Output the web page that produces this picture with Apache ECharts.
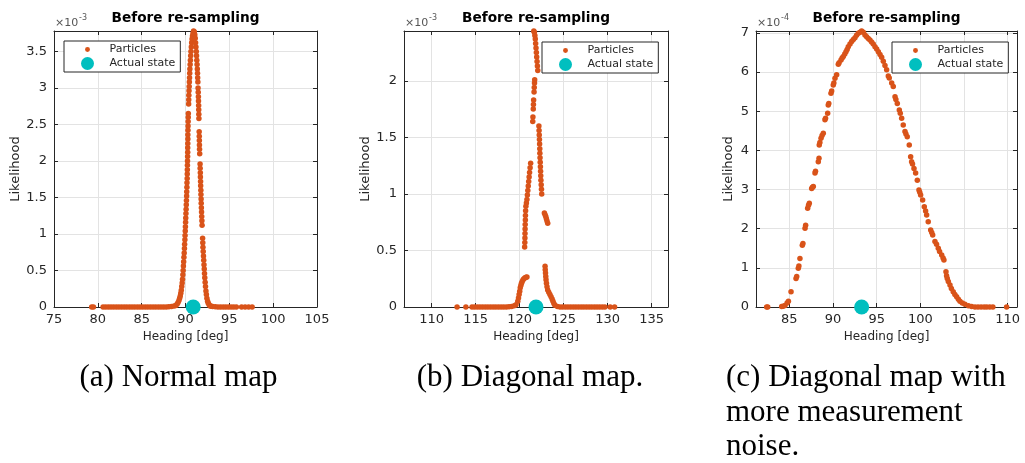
<!DOCTYPE html>
<html><head><meta charset="utf-8">
<script src="https://cdn.jsdelivr.net/npm/echarts@6/dist/echarts.min.js"></script>
<style>html,body{margin:0;padding:0;background:#fff}#c{width:1025px;height:463px}</style>
</head><body><div id="c"></div><script>
// Likelihood values are in units of the exponent shown above each axis (x10^-3, x10^-3, x10^-4)
const particlesA = [
[79.3,0],[79.5,0],[80.6,0],[80.9,0],[81.2,0],[81.5,0],[81.8,0],[82.1,0],[82.4,0],[82.7,0],[83.0,0],[83.3,0],[83.6,0],[83.9,0],[84.2,0],[84.5,0],[84.8,0],[85.1,0],[85.4,0],[85.7,0],[86.0,0],[86.3,0],[86.6,0],[86.9,0],[87.2,0],[87.5,0],[87.8,0],[88.1,0.003],[88.4,0.006],[88.7,0.012],[88.9,0.022],
[89.05,0.04],[89.15,0.06],[89.25,0.09],[89.33,0.12],[89.4,0.15],[89.46,0.19],[89.52,0.23],[89.57,0.28],[89.62,0.33],[89.66,0.38],[89.7,0.44],[89.73,0.5],[89.76,0.56],[89.79,0.62],[89.82,0.68],[89.85,0.74],[89.88,0.8],[89.9,0.86],[89.93,0.92],[89.95,0.98],[89.97,1.04],[89.99,1.1],[90.01,1.16],[90.03,1.22],[90.05,1.28],[90.07,1.34],[90.09,1.4],[90.11,1.46],[90.13,1.52],[90.14,1.58],[90.16,1.64],[90.17,1.7],[90.19,1.76],[90.2,1.82],[90.21,1.88],[90.22,1.94],[90.23,2.0],[90.24,2.06],[90.25,2.12],[90.25,2.18],[90.26,2.24],[90.27,2.3],[90.27,2.36],[90.28,2.42],[90.29,2.48],[90.3,2.54],[90.31,2.6],[90.32,2.65],[90.36,2.78],[90.37,2.84],[90.38,2.9],[90.4,2.96],[90.42,3.02],[90.44,3.08],[90.46,3.14],[90.48,3.2],[90.5,3.26],[90.53,3.32],[90.56,3.38],[90.59,3.44],[90.62,3.5],[90.66,3.56],[90.7,3.62],[90.75,3.67],[90.8,3.71],[90.86,3.75],[90.92,3.78],
[91.0,3.77],[91.06,3.73],[91.11,3.68],[91.15,3.62],[91.19,3.56],[91.23,3.5],[91.26,3.44],[91.29,3.38],[91.32,3.32],[91.35,3.26],[91.37,3.2],[91.39,3.14],[91.41,3.08],[91.43,3.0],[91.45,2.94],[91.47,2.88],[91.48,2.82],[91.5,2.76],[91.51,2.7],[91.52,2.64],[91.53,2.58],[91.56,2.4],[91.57,2.34],[91.58,2.28],[91.59,2.22],[91.6,2.16],[91.62,2.1],[91.66,1.96],[91.67,1.9],[91.69,1.84],[91.7,1.78],[91.72,1.72],[91.73,1.66],[91.75,1.6],[91.76,1.54],[91.78,1.48],[91.79,1.42],[91.81,1.36],[91.83,1.3],[91.85,1.24],[91.87,1.18],[91.89,1.12],[91.95,0.94],[91.97,0.88],[91.99,0.82],[92.02,0.76],[92.05,0.7],[92.08,0.64],[92.11,0.58],[92.14,0.52],[92.17,0.46],[92.2,0.4],[92.24,0.34],[92.28,0.28],[92.33,0.22],[92.38,0.17],[92.44,0.12],[92.52,0.08],[92.6,0.05],[92.7,0.03],[92.8,0.015],[92.95,0.01],
[93.1,0.006],[93.4,0.003],[93.7,0],[94.0,0],[94.3,0],[94.6,0],[94.9,0],[95.2,0],[95.5,0],[95.8,0],[96.4,0],[96.8,0],[97.2,0],[97.6,0]
];
const particlesB = [
[112.9,0],[113.9,0],[114.6,0],[114.9,0],[115.2,0],[115.5,0],[115.8,0],[116.1,0],[116.4,0],[116.7,0],[117.0,0],[117.3,0],[117.6,0],[117.9,0],[118.2,0],[118.5,0],[118.8,0.003],[119.1,0.005],[119.4,0.01],[119.6,0.02],
[119.8,0.05],[119.88,0.08],[119.95,0.11],[120.02,0.14],[120.08,0.17],[120.15,0.19],[120.22,0.21],[120.3,0.225],[120.4,0.24],[120.5,0.25],[120.62,0.258],[120.74,0.262],[120.84,0.266],
[120.58,0.53],[120.6,0.57],[120.61,0.61],[120.62,0.65],[120.63,0.69],[120.64,0.73],[120.66,0.77],[120.67,0.81],[120.69,0.85],[120.72,0.89],[120.78,0.92],[120.84,0.95],[120.89,0.99],[120.94,1.03],[120.99,1.07],[121.04,1.11],[121.09,1.15],[121.14,1.19],[121.2,1.23],[121.26,1.27],
[121.5,1.64],[121.52,1.68],[121.56,1.75],[121.58,1.79],[121.6,1.83],[121.65,1.9],[121.67,1.94],[121.7,1.98],[121.72,2.01],
[121.62,2.44],[121.68,2.43],[121.74,2.4],[121.79,2.37],[121.83,2.33],[121.87,2.29],[121.91,2.25],[121.95,2.21],[121.99,2.17],[122.03,2.13],[122.07,2.09],
[122.2,1.6],[122.22,1.56],[122.24,1.52],[122.26,1.48],[122.28,1.44],[122.3,1.4],[122.31,1.36],[122.33,1.32],[122.35,1.28],[122.37,1.24],[122.39,1.2],[122.41,1.16],[122.43,1.12],[122.46,1.08],[122.49,1.04],[122.52,1.0],
[122.82,0.83],[122.9,0.815],[122.98,0.8],[123.05,0.78],[123.12,0.76],[123.2,0.74],
[122.9,0.36],[122.92,0.33],[122.95,0.3],[122.98,0.27],[123.01,0.24],[123.06,0.21],[123.12,0.18],[123.2,0.15],[123.32,0.13],[123.45,0.11],[123.58,0.09],[123.7,0.07],[123.8,0.05],[123.9,0.03],[124.02,0.015],
[124.3,0.005],[124.6,0],[124.9,0],[125.2,0],[125.5,0],[125.8,0],[126.1,0],[126.4,0],[126.7,0],[127.0,0],[127.3,0],[127.6,0],[127.9,0],[128.2,0],[128.5,0],[128.8,0],[129.1,0],[129.4,0],[129.7,0],[130.3,0],[130.8,0]
];
const particlesC = [
[82.41,0],[82.53,0],[84.13,0.01],[84.3,0.02],[84.5,0.04],[84.75,0.1],[84.9,0.15],[85.2,0.39],[85.77,0.73],[85.85,0.78],[86.03,0.99],[86.1,1.05],[86.22,1.24],[86.49,1.58],[86.56,1.62],[86.8,2.01],[86.87,2.09],[87.1,2.52],[87.2,2.6],[87.29,2.65],[87.56,3.03],[87.65,3.06],[87.75,3.08],[87.94,3.42],[88.0,3.47],[88.32,3.71],[88.4,3.8],[88.43,4.14],[88.5,4.2],[88.63,4.31],[88.75,4.38],[88.89,4.44],[89.08,4.78],[89.15,4.82],[89.39,4.95],[89.46,5.16],[89.52,5.2],[89.77,5.46],[89.85,5.52],[90.03,5.67],[90.1,5.72],[90.23,5.84],[90.42,5.93],[90.61,6.2],[90.7,6.24],[90.92,6.31],[91.05,6.36],[91.18,6.4],[91.35,6.46],[91.49,6.52],[91.62,6.58],[91.75,6.65],[91.95,6.72],[92.14,6.78],[92.33,6.83],[92.52,6.88],[92.7,6.94],[92.9,6.99],[93.1,7.02],[93.28,7.05],
[93.47,7.02],[93.66,6.95],[93.85,6.9],[94.04,6.86],[94.23,6.82],[94.42,6.77],[94.61,6.72],[94.81,6.65],[95.0,6.59],[95.19,6.52],[95.38,6.45],[95.57,6.38],[95.76,6.28],[95.95,6.17],[96.14,6.06],[96.33,5.9],[96.44,5.85],[96.72,5.72],[96.9,5.63],[97.1,5.37],[97.2,5.3],[97.36,5.2],[97.59,5.03],[97.7,4.95],[97.86,4.82],[98.04,4.65],[98.24,4.48],[98.35,4.42],[98.5,4.35],[98.73,4.14],[98.89,3.84],[99.0,3.71],[99.1,3.65],[99.27,3.54],[99.46,3.42],[99.65,3.24],[99.84,2.99],[99.93,2.93],[100.03,2.86],[100.26,2.73],[100.45,2.56],[100.6,2.45],[100.72,2.35],[100.9,2.18],[101.18,1.97],[101.3,1.9],[101.41,1.84],[101.67,1.67],[101.85,1.6],[102.05,1.5],[102.2,1.42],[102.44,1.33],[102.6,1.25],[102.7,1.2],[102.93,0.9],[103.0,0.8],[103.08,0.73],[103.2,0.65],[103.39,0.56],[103.55,0.47],[103.76,0.39],[103.95,0.32],[104.15,0.26],[104.35,0.2],[104.53,0.15],[104.8,0.1],[105.1,0.07],[105.5,0.03],[105.87,0.01],[106.25,0],[106.6,0],[106.95,0],[107.3,0],[107.6,0],[107.95,0],[108.3,0],[109.87,0]
];
const actualA = [[90.88,0]];
const actualB = [[121.87,0]];
const actualC = [[93.28,0]];
const xRanges = [[75,105],[106.87,136.87],[81.19,111.06]];
const yMaxes = [3.78, 2.44, 7.05];
const ySteps = [0.5, 0.5, 1];
const exponents = ['-3','-3','-4'];
const panelTitle = 'Before re-sampling';
const xName = 'Heading [deg]';
const yName = 'Likelihood';
const legendNames = ['Particles','Actual state'];
const captionA = ['(a) Normal map'];
const captionB = ['(b) Diagonal map.'];
const captionC = ['(c) Diagonal map with','more measurement','noise.'];

const particles = [particlesA, particlesB, particlesC];
const actuals = [actualA, actualB, actualC];
const grids = [
  {left:54, top:31, width:263, height:276},
  {left:404, top:31, width:264, height:276},
  {left:756, top:31, width:261, height:276}
];
const yNameGaps = [31, 32, 21];
const legendLefts = [64, 542, 892];
const legendTops = [41, 42, 42];
const INK = '#262626';
const FONT = 'DejaVu Sans';

const xAxis = [], yAxis = [], series = [], legend = [], graphic = [];
const smallDot = 'path://M0,0M20,20M6.2,10a3.8,3.8 0 1,0 7.6,0a3.8,3.8 0 1,0 -7.6,0';
for (let i = 0; i < 3; i++) {
  const g = grids[i];
  const hideEnds = i > 0;
  xAxis.push({
    type:'value', gridIndex:i, position:'bottom', min:xRanges[i][0], max:xRanges[i][1],
    name:xName, nameLocation:'middle', nameGap:24,
    nameTextStyle:{fontSize:12, color:INK, fontFamily:FONT},
    axisLine:{show:true, onZero:false, lineStyle:{color:INK, width:1}},
    axisTick:{show:true, inside:true, length:4, lineStyle:{color:INK}},
    axisLabel:{show:true, color:INK, fontSize:13, fontFamily:FONT, margin:6, showMinLabel:!hideEnds, showMaxLabel:!hideEnds},
    splitLine:{show:true, lineStyle:{color:'#e3e3e3', width:1}}
  });
  xAxis.push({
    type:'value', gridIndex:i, position:'top', min:xRanges[i][0], max:xRanges[i][1],
    axisLine:{show:true, onZero:false, lineStyle:{color:INK, width:1}},
    axisTick:{show:true, inside:true, length:4, lineStyle:{color:INK}},
    axisLabel:{show:false}, splitLine:{show:false}
  });
  yAxis.push({
    type:'value', gridIndex:i, position:'left', min:0, max:yMaxes[i], interval:ySteps[i],
    name:yName, nameLocation:'middle', nameGap:yNameGaps[i],
    nameTextStyle:{fontSize:13, color:INK, fontFamily:FONT},
    axisLine:{show:true, onZero:false, lineStyle:{color:INK, width:1}},
    axisTick:{show:true, inside:true, length:4, lineStyle:{color:INK}},
    axisLabel:{show:true, color:INK, fontSize:13, fontFamily:FONT, margin:7, showMaxLabel:false},
    splitLine:{show:true, lineStyle:{color:'#e3e3e3', width:1}}
  });
  yAxis.push({
    type:'value', gridIndex:i, position:'right', min:0, max:yMaxes[i], interval:ySteps[i],
    axisLine:{show:true, onZero:false, lineStyle:{color:INK, width:1}},
    axisTick:{show:true, inside:true, length:4, lineStyle:{color:INK}},
    axisLabel:{show:false}, splitLine:{show:false}
  });
  series.push({
    type:'scatter', name:legendNames[0], xAxisIndex:2*i, yAxisIndex:2*i,
    data:particles[i], symbol:'circle', symbolSize:5.5, clip:false, silent:true,
    itemStyle:{color:'#D95319', opacity:1}, z:2
  });
  series.push({
    type:'scatter', name:legendNames[1], xAxisIndex:2*i, yAxisIndex:2*i,
    data:actuals[i], symbol:'circle', symbolSize:15, clip:false, silent:true,
    itemStyle:{color:'#00BFBF', opacity:1}, z:3
  });
  legend.push({
    data:[{name:legendNames[0], icon:smallDot},{name:legendNames[1], icon:'circle'}],
    orient:'vertical', left:legendLefts[i], top:legendTops[i],
    itemWidth:34, itemHeight:13, itemGap:1, padding:[2,5,2,17],
    borderColor:INK, borderWidth:1, borderRadius:0, backgroundColor:'#fff',
    selectedMode:false,
    textStyle:{fontSize:11, color:INK, fontFamily:FONT}
  });
  const cx = g.left + g.width/2;
  graphic.push({type:'text', x:cx, y:18, silent:true,
    style:{text:panelTitle, align:'center', verticalAlign:'middle', fontSize:13.7, fontWeight:'bold', fontFamily:FONT, fill:'#000'}});
  graphic.push({type:'text', x:g.left+1, y:23, silent:true,
    style:{text:'\u00d710', align:'left', verticalAlign:'middle', fontSize:11, fontFamily:FONT, fill:'#555'}});
  graphic.push({type:'text', x:g.left+25, y:18, silent:true,
    style:{text:exponents[i], align:'left', verticalAlign:'middle', fontSize:8, fontFamily:FONT, fill:'#555'}});
}
const capFont = {fontSize:31, fontFamily:'Liberation Serif', fill:'#000'};
graphic.push({type:'text', x:178.5, y:378, silent:true, style:Object.assign({text:captionA[0], align:'center', verticalAlign:'middle'}, capFont)});
graphic.push({type:'text', x:530, y:378, silent:true, style:Object.assign({text:captionB[0], align:'center', verticalAlign:'middle'}, capFont)});
captionC.forEach((t, k) => {
  graphic.push({type:'text', x:726, y:378 + k*34.5, silent:true, style:Object.assign({text:t, align:'left', verticalAlign:'middle'}, capFont)});
});

const chart = echarts.init(document.getElementById('c'), null, {renderer:'canvas'});
chart.setOption({
  animation:false,
  backgroundColor:'#fff',
  grid:grids,
  xAxis, yAxis, series, legend, graphic
});
</script></body></html>
